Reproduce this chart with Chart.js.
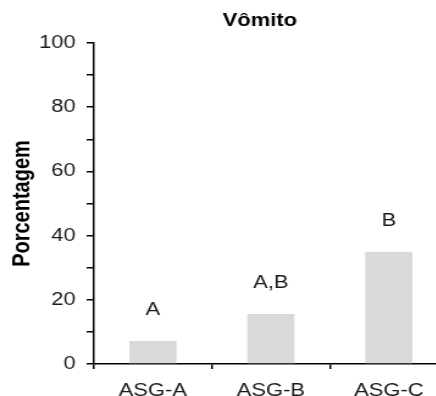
<!DOCTYPE html>
<html>
<head>
<meta charset="utf-8">
<script src="https://cdn.jsdelivr.net/npm/chart.js@4/dist/chart.umd.min.js"></script>
<style>
  html, body { margin: 0; padding: 0; background: #fff; overflow: hidden; }
  /* the source picture is stretched sideways, so the canvas is too */
  #wrap { width: 367px; height: 396px; transform: scaleX(1.22); transform-origin: 0 0; }
</style>
</head>
<body>
<div id="wrap"><canvas id="chart"></canvas></div>
<script>
const TITLE = 'Vômito';
const Y_TITLE = 'Porcentagem';

const groups = ['ASG-A', 'ASG-B', 'ASG-C'];
const percentages = [7.2, 15.6, 35];
const letters = ['A', 'A,B', 'B'];

const Y_MIN = 0;
const Y_MAX = 100;
const Y_STEP = 10;
const Y_LABEL_EVERY = 20;

const FONT = '"Liberation Sans", Arial, sans-serif';

// letters over the bars + the title
const annotate = {
  id: 'annotate',
  afterDatasetsDraw(chart) {
    const ctx = chart.ctx;
    const meta = chart.getDatasetMeta(0);
    ctx.save();
    ctx.fillStyle = '#1a1a1a';
    ctx.textAlign = 'center';
    ctx.textBaseline = 'alphabetic';
    ctx.font = '18px ' + FONT;
    meta.data.forEach((bar, i) => {
      ctx.fillText(letters[i], bar.x, bar.y - 26);
    });
    ctx.fillStyle = '#000';
    ctx.font = 'bold 18px ' + FONT;
    ctx.fillText(TITLE, chart.scales.x.getPixelForValue(1) - 9, 26);
    ctx.restore();
  }
};

new Chart(document.getElementById('chart'), {
  type: 'bar',
  data: {
    labels: groups,
    datasets: [{
      data: percentages,
      backgroundColor: '#d9d9d9',
      borderWidth: 0,
      categoryPercentage: 1,
      barPercentage: 0.4
    }]
  },
  options: {
    responsive: true,
    maintainAspectRatio: false,
    animation: false,
    layout: { padding: { top: 43, left: 0, right: 0, bottom: 0 } },
    plugins: { legend: { display: false }, tooltip: { enabled: false } },
    scales: {
      x: {
        afterFit: s => { s.height = 32; },
        grid: { drawOnChartArea: false, drawTicks: true, tickLength: 5, color: '#000', lineWidth: 1.5, offset: true },
        border: { display: true, color: '#000', width: 1.5 },
        ticks: { color: '#1a1a1a', font: { family: FONT, size: 18 }, padding: 11 }
      },
      y: {
        min: Y_MIN,
        max: Y_MAX,
        afterFit: s => { s.width = 77; },
        grid: { drawOnChartArea: false, drawTicks: true, tickLength: 6, color: '#000', lineWidth: 1.5 },
        border: { display: true, color: '#000', width: 1.5 },
        ticks: {
          stepSize: Y_STEP,
          autoSkip: false,
          color: '#1a1a1a',
          font: { family: FONT, size: 18 },
          padding: 9,
          callback: v => (v % Y_LABEL_EVERY === 0 ? v : '')
        },
        title: {
          display: true,
          text: Y_TITLE,
          color: '#000',
          font: { family: FONT, size: 20, weight: 'bold' },
          padding: { top: 6, bottom: 0 }
        }
      }
    }
  },
  plugins: [annotate]
});
</script>
</body>
</html>
